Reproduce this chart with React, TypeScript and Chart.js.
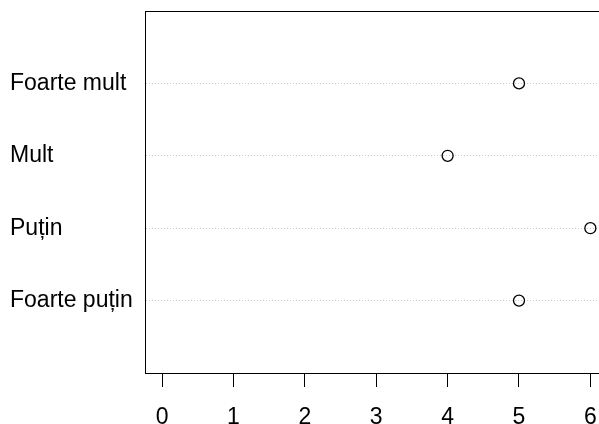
import React, { useEffect, useRef } from "react";
import { Chart, registerables } from "chart.js";

Chart.register(...registerables);

// Response levels, listed bottom to top as in a dot chart
const categories = ["Foarte puțin", "Puțin", "Mult", "Foarte mult"];
const counts = [5, 6, 4, 5];
const xTicks = [0, 1, 2, 3, 4, 5, 6];

const FONT = "'Liberation Sans', Arial, Helvetica, sans-serif";

// Frame around the plotting region
const boxPlugin = {
  id: "plotBox",
  afterDraw(chart: Chart) {
    const { ctx, chartArea } = chart;
    ctx.save();
    ctx.strokeStyle = "#000";
    ctx.lineWidth = 1;
    ctx.strokeRect(
      Math.round(chartArea.left) + 0.5,
      Math.round(chartArea.top) + 0.5,
      Math.round(chartArea.right - chartArea.left),
      Math.round(chartArea.bottom - chartArea.top)
    );
    ctx.restore();
  },
};

export default function App() {
  const canvasRef = useRef<HTMLCanvasElement | null>(null);

  useEffect(() => {
    const canvas = canvasRef.current;
    if (!canvas) return;
    const chart = new Chart(canvas, {
      type: "scatter",
      data: {
        datasets: [
          {
            data: counts.map((v, i) => ({ x: v, y: i + 1 })),
            pointStyle: "circle",
            pointRadius: 5.5,
            pointHoverRadius: 5.5,
            pointBorderWidth: 1.3,
            pointBorderColor: "#000",
            pointBackgroundColor: "rgba(0,0,0,0)",
            showLine: false,
            clip: false,
          },
        ],
      },
      plugins: [boxPlugin],
      options: {
        animation: false,
        responsive: false,
        devicePixelRatio: 1,
        events: [],
        layout: { padding: { left: 10, top: 11, right: 12.5, bottom: 0 } },
        plugins: {
          legend: { display: false },
          tooltip: { enabled: false },
          title: { display: false },
        },
        scales: {
          x: {
            type: "linear",
            min: -0.24,
            max: 6.24,
            afterBuildTicks: (scale: any) => {
              scale.ticks = xTicks.map((v) => ({ value: v }));
            },
            afterFit: (scale: any) => {
              scale.height = 51;
              scale.paddingLeft = 0;
              scale.paddingRight = 0;
            },
            grid: {
              drawOnChartArea: false,
              drawTicks: true,
              tickLength: 14,
              tickColor: "#000",
              tickWidth: 1,
              color: "#000",
            },
            border: { display: true, color: "#000", width: 1 },
            ticks: {
              color: "#000",
              padding: 17,
              maxRotation: 0,
              autoSkip: false,
              font: { family: FONT, size: 23 },
              callback: (v: any) => String(v),
            },
          },
          y: {
            type: "linear",
            min: 0,
            max: 5,
            afterBuildTicks: (scale: any) => {
              scale.ticks = categories.map((_, i) => ({ value: i + 1 }));
            },
            afterFit: (scale: any) => {
              scale.width = 135;
              scale.paddingTop = 0;
              scale.paddingBottom = 0;
            },
            grid: {
              drawOnChartArea: true,
              drawTicks: false,
              color: "#c8c8c8",
              lineWidth: 1,
            },
            border: { display: true, color: "#000", width: 1, dash: [1, 2] },
            ticks: {
              color: "#000",
              crossAlign: "far",
              autoSkip: false,
              font: { family: FONT, size: 23 },
              callback: (v: any) => categories[Number(v) - 1] ?? "",
            },
          },
        },
      },
    });
    return () => chart.destroy();
  }, []);

  return (
    <div
      style={{
        position: "fixed",
        left: 0,
        top: 0,
        width: 599,
        height: 424,
        overflow: "hidden",
        background: "#fff",
      }}
    >
      <canvas
        ref={canvasRef}
        width={620}
        height={424}
        style={{ display: "block", width: 620, height: 424 }}
      />
    </div>
  );
}
